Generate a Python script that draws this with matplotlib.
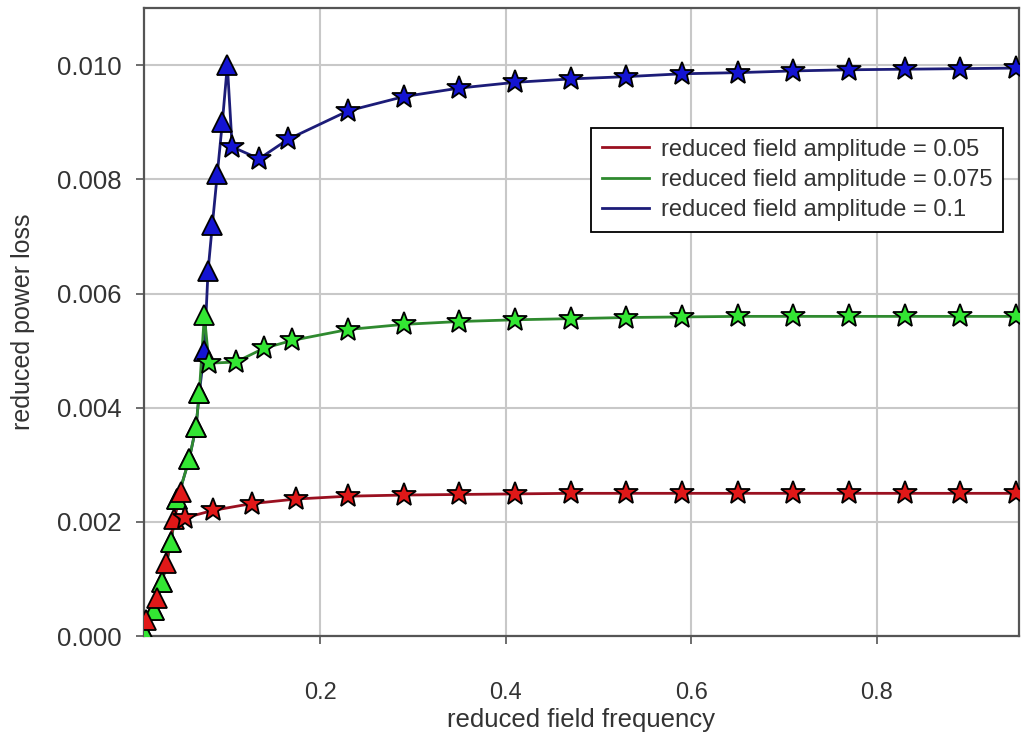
import numpy as np
import matplotlib
matplotlib.use("Agg")
import matplotlib.pyplot as plt
from matplotlib.ticker import FormatStrFormatter

plt.rcParams['font.family'] = ['Liberation Sans', 'DejaVu Sans']

# low-frequency points (triangles)
red_tri_x = [0.0122, 0.0241, 0.0338, 0.0425, 0.050]
red_tri_y = [0.00028, 0.00066, 0.00128, 0.00205, 0.00252]
green_tri_x = [0.010, 0.021, 0.0295, 0.039, 0.046, 0.0587, 0.066, 0.0695, 0.075]
green_tri_y = [0.00007, 0.00045, 0.00094, 0.00164, 0.0024, 0.0031, 0.00366, 0.00425, 0.00562]
blue_tri_x = [0.010, 0.021, 0.0295, 0.039, 0.046, 0.0587, 0.066, 0.0695, 0.075,
              0.079, 0.0836, 0.089, 0.0944, 0.0998]
blue_tri_y = [0.00007, 0.00045, 0.00094, 0.00164, 0.0024, 0.0031, 0.00366, 0.00425, 0.00500,
              0.0064, 0.0072, 0.0081, 0.0090, 0.0100]

# higher-frequency points (stars)
red_star_x = [0.054, 0.084, 0.126, 0.174, 0.23, 0.29, 0.35, 0.41, 0.47, 0.53,
              0.59, 0.65, 0.71, 0.77, 0.83, 0.89, 0.95]
red_star_y = [0.00207, 0.0022, 0.00232, 0.0024, 0.00245, 0.00247, 0.00248, 0.00249, 0.0025, 0.0025,
              0.0025, 0.0025, 0.0025, 0.0025, 0.0025, 0.0025, 0.0025]
green_star_x = [0.080, 0.109, 0.139, 0.17, 0.23, 0.29, 0.35, 0.41, 0.47, 0.53,
                0.59, 0.65, 0.71, 0.77, 0.83, 0.89, 0.95]
green_star_y = [0.00478, 0.0048, 0.00504, 0.00518, 0.00537, 0.00546, 0.00551, 0.00554, 0.00556, 0.00558,
                0.00559, 0.0056, 0.0056, 0.0056, 0.0056, 0.0056, 0.0056]
blue_star_x = [0.105, 0.134, 0.165, 0.23, 0.29, 0.35, 0.41, 0.47, 0.53,
               0.59, 0.65, 0.71, 0.77, 0.83, 0.89, 0.95]
blue_star_y = [0.00857, 0.00836, 0.0087, 0.0092, 0.00945, 0.0096, 0.0097, 0.00976, 0.0098,
               0.00985, 0.00987, 0.0099, 0.00992, 0.00993, 0.00994, 0.00995]

labels = ['reduced field amplitude = 0.05',
          'reduced field amplitude = 0.075',
          'reduced field amplitude = 0.1']

series = [
    (blue_tri_x, blue_tri_y, blue_star_x, blue_star_y, '#1c1c78', '#1414d2', labels[2]),
    (green_tri_x, green_tri_y, green_star_x, green_star_y, '#2f8a2f', '#33e633', labels[1]),
    (red_tri_x, red_tri_y, red_star_x, red_star_y, '#9a1020', '#e01818', labels[0]),
]

fig = plt.figure(figsize=(10.29, 7.40), dpi=100, facecolor='w')
ax = fig.add_axes([0.140, 0.1405, 0.850, 0.8485])

handles = {}
for tx, ty, sx, sy, lc, fc, lab in series:
    x = list(tx) + list(sx)
    y = list(ty) + list(sy)
    line, = ax.plot(x, y, color=lc, lw=2, label=lab, zorder=2)
    ax.plot(tx, ty, ls='none', marker='^', ms=15, mfc=fc, mec='black', mew=1.3, zorder=3)
    ax.plot(sx, sy, ls='none', marker='*', ms=18, mfc=fc, mec='black', mew=1.3, zorder=3)
    handles[lab] = line

ax.set_xlim(0.01, 0.953)
ax.set_ylim(0.0, 0.011)
ax.set_xticks([0.2, 0.4, 0.6, 0.8])
ax.set_yticks([0.0, 0.002, 0.004, 0.006, 0.008, 0.010])
ax.yaxis.set_major_formatter(FormatStrFormatter('%.3f'))
ax.xaxis.set_major_formatter(FormatStrFormatter('%.1f'))

ax.grid(True, color='#c8c8c8', lw=1.5, zorder=0)
ax.set_axisbelow(True)
for s in ax.spines.values():
    s.set_color('#555555')
    s.set_linewidth(1.6)
ax.tick_params(axis='both', direction='out', length=6, width=1.2, color='#555555',
               labelcolor='#333333')
ax.tick_params(axis='y', labelsize=18.5, pad=10)
ax.tick_params(axis='x', labelsize=17, pad=27)

ax.set_xlabel('reduced field frequency', fontsize=18.5, color='#333333', labelpad=3)
ax.set_ylabel('reduced power loss', fontsize=18, color='#333333', labelpad=16)

leg = ax.legend([handles[l] for l in labels], labels, loc='upper right',
                bbox_to_anchor=(0.982, 0.809), fontsize=17, frameon=True, fancybox=False,
                edgecolor='black', framealpha=1, handlelength=2.0, labelspacing=0.35,
                borderpad=0.45, handletextpad=0.5, borderaxespad=0)
leg.get_frame().set_linewidth(1.3)
for t in leg.get_texts():
    t.set_color('#333333')

plt.savefig('out.png', dpi=100)
